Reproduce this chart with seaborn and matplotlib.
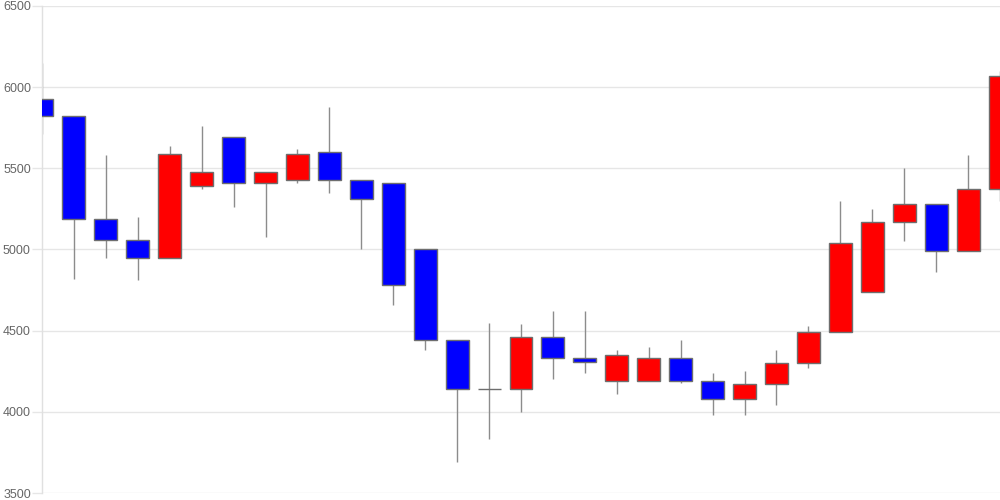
import numpy as np
import pandas as pd
import matplotlib
matplotlib.use("Agg")
import matplotlib.pyplot as plt
import seaborn as sns

# ---- data ----
opens  = [5930, 5820, 5190, 5060, 4950, 5390, 5690, 5410, 5430, 5600,
          5430, 5410, 5000, 4440, 4140, 4140, 4460, 4330, 4190, 4190,
          4330, 4190, 4080, 4170, 4300, 4490, 4740, 5170, 5280, 4990, 5370]
closes = [5820, 5190, 5060, 4950, 5590, 5480, 5410, 5480, 5590, 5430,
          5310, 4780, 4440, 4140, 4140, 4460, 4330, 4310, 4350, 4330,
          4190, 4080, 4170, 4300, 4490, 5040, 5170, 5280, 4990, 5370, 6070]
highs  = [6150, 5820, 5580, 5200, 5640, 5760, 5690, 5480, 5620, 5880,
          5430, 5410, 5000, 4440, 4550, 4540, 4620, 4620, 4380, 4400,
          4440, 4240, 4250, 4380, 4530, 5300, 5250, 5500, 5280, 5580, 6100]
lows   = [5710, 4820, 4950, 4810, 4950, 5370, 5260, 5080, 5410, 5350,
          5000, 4660, 4380, 3690, 3830, 4000, 4200, 4240, 4110, 4190,
          4180, 3980, 3980, 4040, 4270, 4490, 4740, 5050, 4860, 4990, 5300]
y_ticks = [3500, 4000, 4500, 5000, 5500, 6000, 6500]

UP_COLOR = "#ff0000"
DOWN_COLOR = "#0000ff"

df = pd.DataFrame({"idx": np.arange(len(opens)), "open": opens, "close": closes,
                   "high": highs, "low": lows})
df["bottom"] = df[["open", "close"]].min(axis=1)
df["height"] = (df["close"] - df["open"]).abs()
df["color"] = np.where(df["close"] >= df["open"], UP_COLOR, DOWN_COLOR)

sns.set_theme(style="whitegrid")
plt.rcParams["font.family"] = ["Liberation Sans", "DejaVu Sans"]

fig = plt.figure(figsize=(10, 5), dpi=100)
ax = fig.add_axes([0.042, 0.014, 0.958, 0.974])

# wicks
ax.vlines(df["idx"], df["low"], df["high"], color="#8c8c8c", linewidth=1.0, zorder=2)

# bodies via seaborn barplot
sns.barplot(data=df, x="idx", y="height", bottom=df["bottom"].values,
            order=list(df["idx"]), errorbar=None, width=0.72,
            color=UP_COLOR, linewidth=1.0, edgecolor="#6e6e6e",
            ax=ax, zorder=3)
for patch, c in zip(ax.patches, df["color"]):
    patch.set_facecolor(c)

ax.set_xlim(0, 30)
ax.set_ylim(3500, 6500)
ax.set_yticks(y_ticks)
ax.set_yticklabels([str(v) for v in y_ticks])
ax.set_xticks([])
ax.set_xlabel("")
ax.set_ylabel("")

ax.grid(axis="y", color="#e6e6e6", linewidth=1.0)
ax.grid(axis="x", visible=False)
ax.set_axisbelow(True)
for s in ["top", "right", "bottom"]:
    ax.spines[s].set_visible(False)
ax.spines["left"].set_color("#e0e0e0")
ax.spines["left"].set_linewidth(1.0)
ax.tick_params(axis="y", length=7, width=1.0, color="#e6e6e6", pad=1,
               labelsize=9, labelcolor="#666666", left=True)

fig.savefig("out.png", dpi=100, facecolor="white")
